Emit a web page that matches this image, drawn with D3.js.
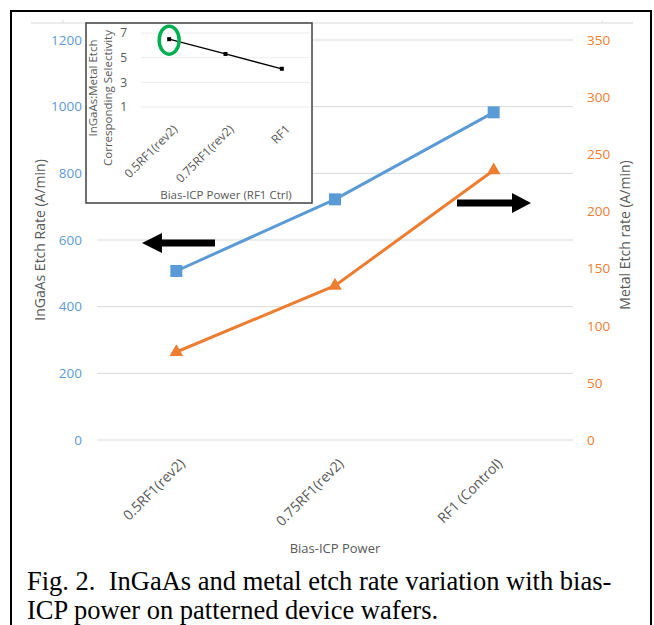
<!DOCTYPE html>
<html><head><meta charset="utf-8">
<script src="https://cdn.jsdelivr.net/npm/d3@7"></script>
<style>body{margin:0;background:#fff} svg{display:block}</style>
</head><body><svg id="c" width="654" height="625" font-family="Open Sans, sans-serif"></svg>
<script>
const categories = ["0.5RF1(rev2)", "0.75RF1(rev2)", "RF1 (Control)"];
const ingaasRate = [507, 722, 983];
const metalRate = [77, 135, 236];
const leftTicks = [0, 200, 400, 600, 800, 1000, 1200];
const rightTicks = [0, 50, 100, 150, 200, 250, 300, 350];
const insetCategories = ["0.5RF1(rev2)", "0.75RF1(rev2)", "RF1"];
const selectivity = [6.5, 5.3, 4.1];
const insetTicks = [1, 3, 5, 7];

const svg = d3.select("#c");
const BLUE = "#5B9BD5", ORANGE = "#ED7D31", GREY = "#595959", GRID = "#d9d9d9";
const SANS = "'Open Sans', sans-serif";

// outer frame and top line
svg.append("path").attr("d", "M11,625V11H651V625").attr("fill", "none").attr("stroke", "#000").attr("stroke-width", 2);
svg.append("line").attr("x1", 31).attr("x2", 633).attr("y1", 23).attr("y2", 23).attr("stroke", GRID);
[63, 602].forEach(px => svg.append("line").attr("x1", px).attr("x2", px).attr("y1", 20).attr("y2", 23).attr("stroke", GRID));

const x = d3.scaleBand().domain(categories).range([97, 573]);
const yL = d3.scaleLinear().domain([0, 1200]).range([440, 40]);
const yR = d3.scaleLinear().domain([0, 350]).range([440, 40]);

// gridlines
svg.append("g").selectAll("line").data(leftTicks).join("line")
  .attr("x1", 97).attr("x2", 573).attr("y1", d => yL(d)).attr("y2", d => yL(d))
  .attr("stroke", GRID).attr("stroke-width", 1);

// left axis
const gl = svg.append("g").attr("transform", "translate(97,0)")
  .call(d3.axisLeft(yL).tickValues(leftTicks).tickFormat(d3.format("d")).tickSize(0).tickPadding(15));
gl.select(".domain").remove();
gl.selectAll("text").attr("fill", BLUE).style("font-size", "13.5px").style("font-family", SANS);

// right axis
const gr = svg.append("g").attr("transform", "translate(573,0)")
  .call(d3.axisRight(yR).tickValues(rightTicks).tickFormat(d3.format("d")).tickSize(0).tickPadding(14));
gr.select(".domain").remove();
gr.selectAll("text").attr("fill", ORANGE).style("font-size", "13.5px").style("font-family", SANS);

// x axis
const gx = svg.append("g").attr("transform", "translate(0,440)")
  .call(d3.axisBottom(x).tickSize(0));
gx.select(".domain").remove();
gx.selectAll("text").attr("fill", GREY).style("font-size", "14px").style("font-family", SANS)
  .attr("text-anchor", "end").attr("x", 0).attr("y", 0).attr("dy", "0.35em")
  .attr("transform", "translate(6,21) rotate(-45)");

// axis titles
const title = (t) => t.attr("fill", GREY).style("font-size", "14px").style("font-family", SANS).attr("text-anchor", "middle");
svg.append("text").attr("transform", "translate(45,240) rotate(-90)").call(title).text("InGaAs Etch Rate (A/min)");
svg.append("text").attr("transform", "translate(630,235) rotate(-90)").call(title).text("Metal Etch rate (A/min)");
svg.append("text").attr("x", 335).attr("y", 553).call(title).style("font-size", "13px").text("Bias-ICP Power");

// series
const cx = (d, i) => x(categories[i]) + x.bandwidth() / 2;
svg.append("path").datum(metalRate).attr("fill", "none").attr("stroke", ORANGE).attr("stroke-width", 3)
  .attr("d", d3.line().x(cx).y(d => yR(d)));
svg.append("g").selectAll("path").data(metalRate).join("path")
  .attr("transform", (d, i) => `translate(${cx(d, i)},${yR(d)})`)
  .attr("d", d3.symbol(d3.symbolTriangle, 80)).attr("fill", ORANGE);
svg.append("path").datum(ingaasRate).attr("fill", "none").attr("stroke", BLUE).attr("stroke-width", 3)
  .attr("d", d3.line().x(cx).y(d => yL(d)));
svg.append("g").selectAll("rect").data(ingaasRate).join("rect")
  .attr("x", (d, i) => cx(d, i) - 6).attr("y", d => yL(d) - 6).attr("width", 12).attr("height", 12).attr("fill", BLUE);

// arrows
svg.append("path").attr("d", "M142,243L162,233L162,239.5L215,239.5L215,246.5L162,246.5L162,253Z").attr("fill", "#000");
svg.append("path").attr("d", "M531,203L512,193L512,199.5L457,199.5L457,206.5L512,206.5L512,213Z").attr("fill", "#000");

// inset
svg.append("rect").attr("x", 86).attr("y", 23).attr("width", 226).attr("height", 180)
  .attr("fill", "#fff").attr("stroke", "#404040").attr("stroke-width", 1.5);
const ix = d3.scaleBand().domain(insetCategories).range([141, 310]);
const iy = d3.scaleLinear().domain([1, 7]).range([107, 33]);
svg.append("g").selectAll("line").data(insetTicks).join("line")
  .attr("x1", 141).attr("x2", 310).attr("y1", d => iy(d)).attr("y2", d => iy(d))
  .attr("stroke", "#ececec");
const giy = svg.append("g").attr("transform", "translate(141,0)")
  .call(d3.axisLeft(iy).tickValues(insetTicks).tickFormat(d3.format("d")).tickSize(0).tickPadding(14));
giy.select(".domain").remove();
giy.selectAll("text").attr("fill", GREY).style("font-size", "12px").style("font-family", SANS);
const gix = svg.append("g").attr("transform", "translate(0,107)")
  .call(d3.axisBottom(ix).tickSize(0));
gix.select(".domain").remove();
gix.selectAll("text").attr("fill", GREY).style("font-size", "12px").style("font-family", SANS)
  .attr("text-anchor", "end").attr("x", 0).attr("y", 0).attr("dy", "0.35em")
  .attr("transform", "translate(6,20) rotate(-45)");
svg.append("text").attr("transform", "translate(97,88) rotate(-90)").call(title).style("font-size", "11.5px").text("InGaAs:Metal Etch");
svg.append("text").attr("transform", "translate(112,98) rotate(-90)").call(title).style("font-size", "11.5px").text("Corresponding Selectivity");
svg.append("text").attr("x", 226).attr("y", 199).call(title).style("font-size", "11.5px").text("Bias-ICP Power (RF1 Ctrl)");
const icx = (d, i) => ix(insetCategories[i]) + ix.bandwidth() / 2;
svg.append("path").datum(selectivity).attr("fill", "none").attr("stroke", "#000").attr("stroke-width", 1.3)
  .attr("d", d3.line().x(icx).y(d => iy(d)));
svg.append("g").selectAll("rect").data(selectivity).join("rect")
  .attr("x", (d, i) => icx(d, i) - 2).attr("y", d => iy(d) - 2).attr("width", 4).attr("height", 4).attr("fill", "#000");
svg.append("ellipse").attr("cx", icx(selectivity[0], 0)).attr("cy", iy(selectivity[0]) + 1).attr("rx", 10).attr("ry", 14)
  .attr("fill", "none").attr("stroke", "#00B050").attr("stroke-width", 3.5);

// caption
const capStyle = (t) => t.style("font-family", "'Liberation Serif', 'Times New Roman', serif").style("font-size", "26.5px").attr("fill", "#000").style("white-space", "pre");
svg.append("text").attr("x", 27).attr("y", 590).call(capStyle).text("Fig. 2.  InGaAs and metal etch rate variation with bias-");
svg.append("text").attr("x", 27).attr("y", 619).call(capStyle).text("ICP power on patterned device wafers.");
</script></body></html>
